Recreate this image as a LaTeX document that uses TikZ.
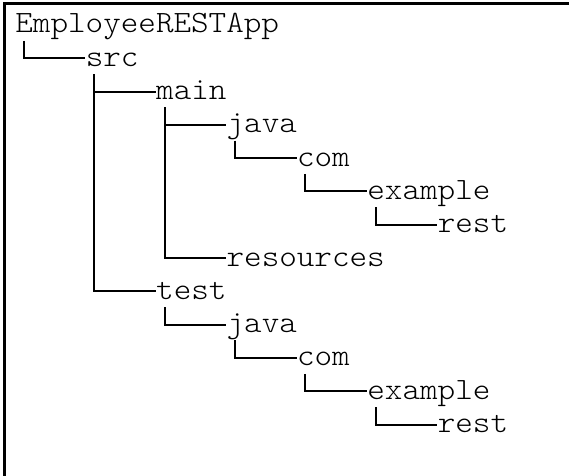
\documentclass[tikz,border=0pt]{standalone}
\usepackage{fontspec}
\newfontfamily\dirfont[FakeStretch=1.08]{Latin Modern Mono Light}

\begin{document}
\begin{tikzpicture}[
    x=0.5pt, y=-0.5pt,
    dir/.style={inner sep=0pt, anchor=base west, text height=11.7pt, text depth=3.7pt, font=\dirfont\fontsize{15.5}{17}\selectfont},
    branch/.style={line width=1pt},
    frame/.style={line width=1.6pt}
]
\useasboundingbox (0,0) rectangle (569,476);

% Frame
\draw[frame] (4.5,476) |- (569,3.75);

% Root
\node[dir] (root) at (15, 33) {EmployeeRESTApp};
\node[dir] (src) at (85.4, 66.3) {src};

% main branch
\node[dir] (main) at (155.8, 99.6) {main};
\node[dir] (mjava) at (226.2, 132.9) {java};
\node[dir] (mcom) at (296.6, 166.2) {com};
\node[dir] (mexample) at (367, 199.5) {example};
\node[dir] (mrest) at (437.4, 232.8) {rest};
\node[dir] (mres) at (226.2, 266.1) {resources};

% test branch
\node[dir] (test) at (155.8, 299.4) {test};
\node[dir] (tjava) at (226.2, 332.7) {java};
\node[dir] (tcom) at (296.6, 366) {com};
\node[dir] (texample) at (367, 399.3) {example};
\node[dir] (trest) at (437.4, 432.6) {rest};

% Branches
\draw[branch] ([xshift=4.4pt]root.south west) |- (src.west);
\draw[branch] ([xshift=4.4pt]src.south west) |- (main.west);
\draw[branch] ([xshift=4.4pt]src.south west) |- (test.west);
\draw[branch] ([xshift=4.4pt]main.south west) |- (mjava.west);
\draw[branch] ([xshift=4.4pt]main.south west) |- (mres.west);
\draw[branch] ([xshift=4.4pt]mjava.south west) |- (mcom.west);
\draw[branch] ([xshift=4.4pt]mcom.south west) |- (mexample.west);
\draw[branch] ([xshift=4.4pt]mexample.south west) |- (mrest.west);
\draw[branch] ([xshift=4.4pt]test.south west) |- (tjava.west);
\draw[branch] ([xshift=4.4pt]tjava.south west) |- (tcom.west);
\draw[branch] ([xshift=4.4pt]tcom.south west) |- (texample.west);
\draw[branch] ([xshift=4.4pt]texample.south west) |- (trest.west);

\end{tikzpicture}
\end{document}
